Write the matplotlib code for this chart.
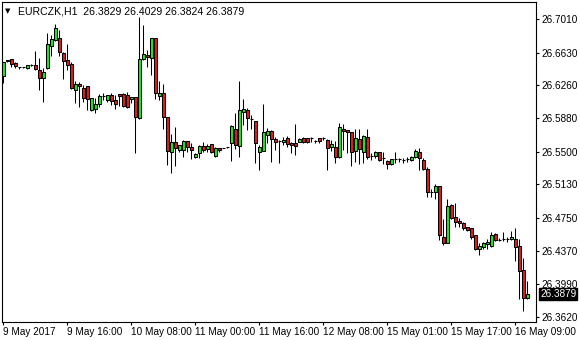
import matplotlib
matplotlib.use("Agg")
import matplotlib.pyplot as plt
from matplotlib.transforms import blended_transform_factory

# EURCZK H1 bars, 9 May 2017 00:00 .. 16 May 2017 12:00
opens = [
    26.6367, 26.6542, 26.6557, 26.6508, 26.6471, 26.6462, 26.6451, 26.6485,
    26.6488, 26.6431, 26.6337, 26.6451, 26.6708, 26.6773, 26.6793, 26.6622,
    26.6545, 26.6500, 26.6200, 26.6272, 26.6230, 26.6249, 26.5976, 26.5987,
    26.6041, 26.6135, 26.6086, 26.6147, 26.6090, 26.6158, 26.6158, 26.6147,
    26.6098, 26.6120, 26.5888, 26.6553, 26.6602, 26.6565, 26.6793, 26.6139,
    26.6166, 26.5899, 26.5494, 26.5608, 26.5520, 26.5520, 26.5622, 26.5558,
    26.5444, 26.5489, 26.5566, 26.5535, 26.5585, 26.5451, 26.5546, 26.5546,
    26.5551, 26.5603, 26.5759, 26.5569, 26.5950, 26.5976, 26.5873, 26.5854,
    26.5494, 26.5512, 26.5691, 26.5736, 26.5645, 26.5626, 26.5615, 26.5660,
    26.5600, 26.5600, 26.5615, 26.5660, 26.5653, 26.5660, 26.5622, 26.5653,
    26.5660, 26.5630, 26.5551, 26.5551, 26.5437, 26.5759, 26.5748, 26.5722,
    26.5508, 26.5645, 26.5501, 26.5665, 26.5455, 26.5455, 26.5494, 26.5425,
    26.5395, 26.5357, 26.5414, 26.5414, 26.5409, 26.5421, 26.5406, 26.5444,
    26.5494, 26.5406, 26.5303, 26.5038, 26.5045, 26.5110, 26.4532, 26.4464,
    26.4893, 26.4753, 26.4711, 26.4685, 26.4639, 26.4628, 26.4551, 26.4389,
    26.4418, 26.4449, 26.4426, 26.4559, 26.4494, 26.4506, 26.4506, 26.4502,
    26.4506, 26.4426, 26.4153, 26.3829,
]
highs = [
    26.6526, 26.6545, 26.6557, 26.6526, 26.6471, 26.6466, 26.6488, 26.6496,
    26.6651, 26.6572, 26.6458, 26.6856, 26.6830, 26.6952, 26.6887, 26.6640,
    26.6724, 26.6526, 26.6306, 26.6298, 26.6261, 26.6249, 26.6116, 26.6109,
    26.6161, 26.6166, 26.6147, 26.6166, 26.6147, 26.6158, 26.6166, 26.6184,
    26.6127, 26.6120, 26.7032, 26.6944, 26.6659, 26.6800, 26.6793, 26.6310,
    26.6272, 26.5899, 26.5702, 26.5779, 26.5577, 26.5634, 26.5622, 26.5596,
    26.5482, 26.5577, 26.5608, 26.5585, 26.5585, 26.5558, 26.5546, 26.5548,
    26.5554, 26.5805, 26.5938, 26.6306, 26.6101, 26.5995, 26.5919, 26.5854,
    26.5577, 26.6041, 26.5767, 26.5748, 26.5671, 26.5634, 26.5671, 26.5679,
    26.5615, 26.5813, 26.5660, 26.5671, 26.5660, 26.5671, 26.5634, 26.5660,
    26.5668, 26.5645, 26.5634, 26.5622, 26.5824, 26.5813, 26.5748, 26.5722,
    26.5759, 26.5756, 26.5691, 26.5756, 26.5482, 26.5508, 26.5501, 26.5494,
    26.5406, 26.5417, 26.5494, 26.5432, 26.5432, 26.5444, 26.5455, 26.5531,
    26.5539, 26.5425, 26.5323, 26.5075, 26.5129, 26.5110, 26.4734, 26.4958,
    26.4901, 26.4919, 26.4742, 26.4703, 26.4646, 26.4628, 26.4551, 26.4457,
    26.4475, 26.4502, 26.4589, 26.4571, 26.4514, 26.4589, 26.4525, 26.4600,
    26.4628, 26.4502, 26.4286, 26.4029,
]
lows = [
    26.6287, 26.6526, 26.6469, 26.6451, 26.6439, 26.6458, 26.6446, 26.6477,
    26.6431, 26.6204, 26.6063, 26.6443, 26.6591, 26.6762, 26.6594, 26.6329,
    26.6431, 26.6215, 26.6052, 26.6013, 26.6063, 26.5976, 26.5964, 26.5938,
    26.6013, 26.6090, 26.6063, 26.6033, 26.5984, 26.6021, 26.6013, 26.5995,
    26.6052, 26.5489, 26.5877, 26.6545, 26.6469, 26.6374, 26.6098, 26.6090,
    26.5756, 26.5349, 26.5261, 26.5338, 26.5501, 26.5437, 26.5501, 26.5417,
    26.5432, 26.5432, 26.5501, 26.5501, 26.5489, 26.5444, 26.5494, 26.5543,
    26.5546, 26.5398, 26.5531, 26.5444, 26.5805, 26.5748, 26.5756, 26.5368,
    26.5292, 26.5508, 26.5596, 26.5387, 26.5520, 26.5375, 26.5577, 26.5558,
    26.5489, 26.5463, 26.5608, 26.5596, 26.5596, 26.5615, 26.5596, 26.5596,
    26.5634, 26.5292, 26.5508, 26.5375, 26.5425, 26.5520, 26.5489, 26.5341,
    26.5387, 26.5357, 26.5368, 26.5417, 26.5406, 26.5425, 26.5395, 26.5357,
    26.5300, 26.5349, 26.5368, 26.5380, 26.5368, 26.5387, 26.5395, 26.5432,
    26.5292, 26.5292, 26.4988, 26.4988, 26.4962, 26.4494, 26.4438, 26.4464,
    26.4730, 26.4639, 26.4639, 26.4608, 26.4600, 26.4502, 26.4381, 26.4324,
    26.4389, 26.4389, 26.4418, 26.4483, 26.4483, 26.4483, 26.4475, 26.4494,
    26.4259, 26.3819, 26.3689, 26.3824,
]
closes = [
    26.6519, 26.6531, 26.6503, 26.6477, 26.6469, 26.6461, 26.6485, 26.6487,
    26.6439, 26.6344, 26.6412, 26.6724, 26.6785, 26.6907, 26.6640, 26.6537,
    26.6488, 26.6230, 26.6268, 26.6246, 26.6116, 26.6098, 26.6109, 26.6041,
    26.6135, 26.6133, 26.6147, 26.6082, 26.6041, 26.6139, 26.6025, 26.6006,
    26.6120, 26.5893, 26.6553, 26.6614, 26.6576, 26.6793, 26.6166, 26.6166,
    26.5899, 26.5512, 26.5608, 26.5546, 26.5577, 26.5622, 26.5551, 26.5520,
    26.5474, 26.5566, 26.5520, 26.5566, 26.5501, 26.5546, 26.5523, 26.5544,
    26.5550, 26.5793, 26.5577, 26.5976, 26.5984, 26.5888, 26.5871, 26.5596,
    26.5558, 26.5722, 26.5736, 26.5642, 26.5615, 26.5624, 26.5630, 26.5585,
    26.5577, 26.5569, 26.5645, 26.5615, 26.5615, 26.5658, 26.5620, 26.5622,
    26.5658, 26.5546, 26.5585, 26.5444, 26.5779, 26.5740, 26.5722, 26.5501,
    26.5660, 26.5528, 26.5679, 26.5444, 26.5453, 26.5494, 26.5406, 26.5423,
    26.5357, 26.5414, 26.5412, 26.5412, 26.5407, 26.5423, 26.5444, 26.5508,
    26.5425, 26.5303, 26.5045, 26.5036, 26.5113, 26.4551, 26.4464, 26.4882,
    26.4749, 26.4703, 26.4685, 26.4628, 26.4608, 26.4532, 26.4389, 26.4426,
    26.4457, 26.4475, 26.4551, 26.4494, 26.4492, 26.4504, 26.4504, 26.4525,
    26.4418, 26.4145, 26.3830, 26.3879,
]

price_ticks = [26.7010, 26.6630, 26.6260, 26.5880, 26.5500,
               26.5130, 26.4750, 26.4370, 26.3990, 26.3620]
date_ticks = [0, 16, 32, 48, 64, 80, 96, 112, 128]
date_labels = ["9 May 2017", "9 May 16:00", "10 May 08:00", "11 May 00:00",
               "11 May 16:00", "12 May 08:00", "15 May 01:00", "15 May 17:00",
               "16 May 09:00"]
symbol = "EURCZK,H1"
last_price = closes[-1]

UP = "#22e622"
DOWN = "#dc1e1e"
FONT = "Liberation Sans"

W, H = 580, 340
fig = plt.figure(figsize=(W / 100, H / 100), dpi=100)
fig.patch.set_facecolor("white")
# plot frame in pixels: left 2, right 536, top 2, bottom 321.7
ax = fig.add_axes([2 / W, (H - 321.7) / H, 534 / W, 319.7 / H])
ax.set_facecolor("white")

x = list(range(len(opens)))
ax.vlines(x, lows, highs, color="black", linewidth=0.75, zorder=2)

for i in x:
    o, c = opens[i], closes[i]
    bottom = min(o, c)
    height = abs(c - o)
    if height < 0.00025:
        ax.hlines((o + c) / 2, i - 0.4, i + 0.4, color="black",
                  linewidth=0.8, zorder=3)
        continue
    ax.bar(i, height, bottom=bottom, width=0.7,
           color=UP if c > o else DOWN, edgecolor="black",
           linewidth=0.75, zorder=3)

ax.set_xlim(-0.33, 133.2)
ax.set_ylim(26.3564, 26.7206)

for s in ax.spines.values():
    s.set_color("black")
    s.set_linewidth(0.8)

ax.yaxis.tick_right()
ax.set_yticks(price_ticks)
ax.set_yticklabels(["%.4f" % p for p in price_ticks], fontsize=7.2,
                   family=FONT)
ax.tick_params(axis="y", direction="out", length=2.5, width=0.8, pad=1.5)

ax.set_xticks(date_ticks)
ax.set_xticklabels(date_labels, fontsize=7.2, family=FONT, ha="left")
ax.tick_params(axis="x", direction="out", length=2.5, width=0.8, pad=1.5)

# symbol header with the current bar OHLC
fig.text(5 / W, 1 - 11 / H, "\u25bc", fontsize=5, family="DejaVu Sans",
         va="center", ha="left")
fig.text(18 / W, 1 - 11 / H,
         "%s  %.4f %.4f %.4f %.4f" % (symbol, opens[-1], highs[-1],
                                     lows[-1], closes[-1]),
         fontsize=7.6, family=FONT, va="center", ha="left")

# current price marker on the price scale
tr = blended_transform_factory(ax.transAxes, ax.transData)
ax.text(1.0 + 4 / 534, last_price, "%.4f" % last_price, transform=tr,
        fontsize=7.2, family=FONT, color="white", va="center", ha="left",
        bbox=dict(boxstyle="square,pad=0.12", facecolor="black",
                  edgecolor="black"), clip_on=False, zorder=5)

fig.savefig("out.png", dpi=100)
